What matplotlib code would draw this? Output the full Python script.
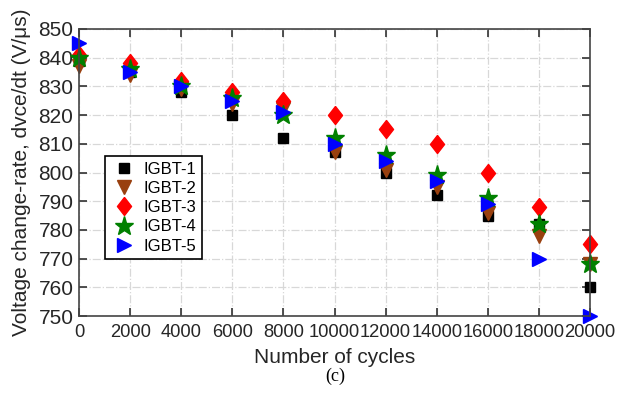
import numpy as np
import matplotlib.pyplot as plt

plt.rcParams['font.family'] = ['Liberation Sans', 'DejaVu Sans']

cycles = [0, 2000, 4000, 6000, 8000, 10000, 12000, 14000, 16000, 18000, 20000]
igbt1 = [839, 835, 828, 820, 812, 807, 800, 792, 785, 782, 760]
igbt2 = [837, 834, 829, 824, 822, 807, 801, 795, 786, 778, 768]
igbt3 = [841, 838, 832, 828, 825, 820, 815, 810, 800, 788, 775]
igbt4 = [840, 836, 830, 826, 820, 812, 806, 799, 791, 782, 768]
igbt5 = [845, 835, 830, 825, 821, 810, 804, 797, 789, 770, 750]

# tall diamond like the original
diamond = [(0, 1), (0.78, 0), (0, -1), (-0.78, 0), (0, 1)]

fig = plt.figure(figsize=(6.19, 3.96), dpi=100)
ax = fig.add_axes([79/619, 1-316/396, 511/619, 287/396])

ax.plot(cycles, igbt1, 's', color='black', ms=7.5, label='IGBT-1', clip_on=False)
ax.plot(cycles, igbt2, 'v', color='#99400f', ms=10.5, label='IGBT-2', clip_on=False)
ax.plot(cycles, igbt3, marker=diamond, ls='none', color='red', ms=13, label='IGBT-3', clip_on=False)
ax.plot(cycles, igbt4, '*', color='green', ms=14, label='IGBT-4', clip_on=False)
ax.plot(cycles, igbt5, '>', color='blue', ms=10.5, label='IGBT-5', clip_on=False)

ax.set_xlim(0, 20000)
ax.set_ylim(750, 850)
ax.set_xticks(cycles)
ax.set_yticks(np.arange(750, 851, 10))
ax.grid(True, color='#d8d8d8', linestyle='-.', linewidth=0.9)
ax.set_axisbelow(True)
ax.tick_params(direction='in', top=True, right=True, length=6, width=1.2,
               colors='#333333', labelcolor='#262626')
ax.tick_params(axis='y', labelsize=15, pad=4)
# the 5-digit labels run together in the original; slightly smaller keeps them apart
ax.tick_params(axis='x', labelsize=13.2, pad=6)
for s in ax.spines.values():
    s.set_color('#444444')
    s.set_linewidth(1.2)

ax.set_xlabel('Number of cycles', fontsize=15, color='#262626', labelpad=5)
ax.set_ylabel('Voltage change-rate, dvce/dt (V/\u03bcs)', fontsize=15, color='#262626', labelpad=5)

leg = ax.legend(loc='lower left', bbox_to_anchor=(0.035, 0.168), fontsize=12,
                frameon=True, fancybox=False, edgecolor='black', framealpha=1,
                handletextpad=0.35, borderpad=0.35, labelspacing=0.25, handlelength=1.6)
leg.get_frame().set_linewidth(1.2)

fig.text(335/619, 1-376/396, '(c)', fontsize=13, family='Liberation Serif', ha='center', va='center')

fig.savefig('out.png', dpi=100)
